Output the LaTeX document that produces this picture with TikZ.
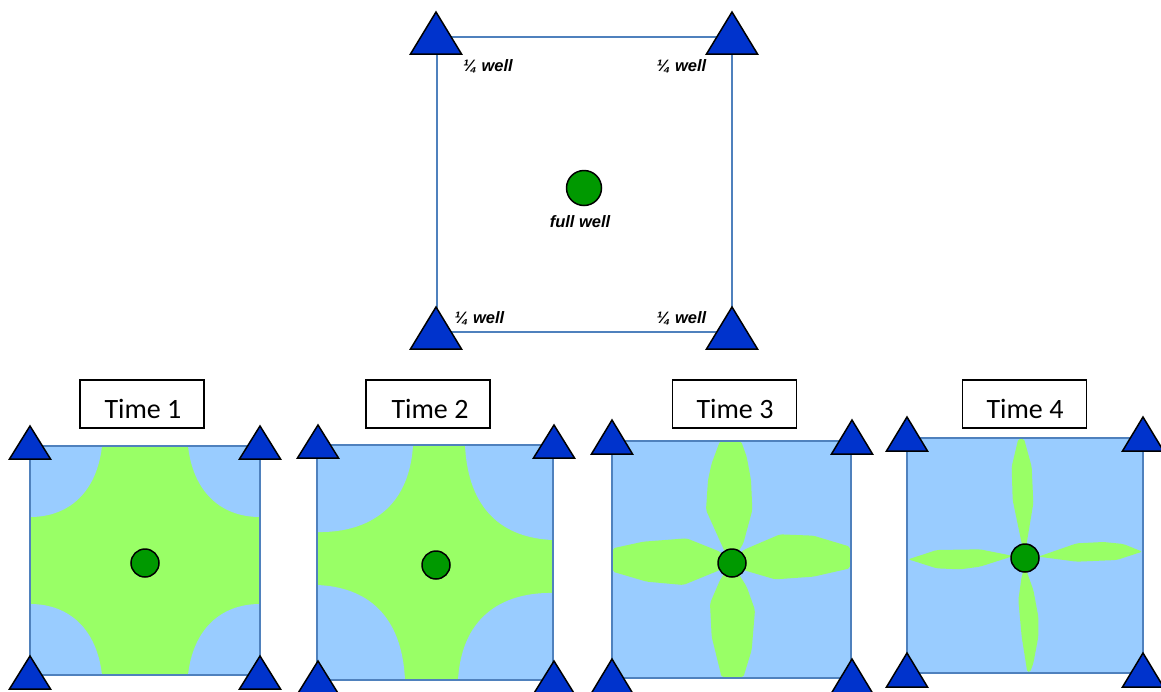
\documentclass[tikz,border=0pt]{standalone}
\usepackage{fontspec}
\newfontfamily\labfont{Liberation Sans}
\newfontfamily\timefont{Carlito}
\definecolor{triblue}{RGB}{0,51,204}
\definecolor{frameblue}{RGB}{79,129,189}
\definecolor{lblue}{RGB}{153,204,255}
\definecolor{lgreen}{RGB}{153,255,102}
\definecolor{wellgreen}{RGB}{0,153,0}
\tikzset{
  wtri/.style={fill=triblue, draw=black, line width=1.5pt, line join=miter},
  cell/.style={draw=frameblue, line width=2pt},
  well/.style={circle, fill=wellgreen, draw=black, line width=1.5pt, inner sep=0pt},
  lab/.style={font={\labfont\bfseries\itshape\fontsize{16.5}{18}\selectfont}, anchor=base, inner sep=0pt},
  timebox/.style={draw=black, line width=1.3pt, minimum width=124pt, minimum height=48pt, inner sep=0pt},
  timetxt/.style={font={\timefont\fontsize{28}{30}\selectfont}, anchor=base, inner sep=0pt},
}
\newcommand\welltri[4]{\filldraw[wtri] (#1,#2) -- ({#1-#3},{#2+#4}) -- ({#1+#3},{#2+#4}) -- cycle;}
\newcommand\timelabel[5]{%
  \node[timebox] (#1) at (#2,404) {};
  \begin{scope}
    \clip ({#2-62},380) rectangle ({#2+62},418.5);
    \node[timetxt] (#1txt) at (#3,418) {#4};
  \end{scope}}
\begin{document}
\begin{tikzpicture}[x=1pt,y=-1pt]
\useasboundingbox (0,0) rectangle (1161,691);

% ---------- top diagram ----------
\draw[cell] (437,37) rectangle (732,332);
\node[well, minimum size=35pt] (w0) at (584,188) {};
\node[lab] (l1) at (488,71) {¼ well};
\node[lab] (l2) at (681.5,71) {¼ well};
\node[lab] (l3) at (479.5,323) {¼ well};
\node[lab] (l4) at (681.5,323) {¼ well};
\node[lab] (lf) at (580,227.5) {full well};
\welltri{436}{12}{25.5}{42}
\welltri{732}{12}{25.5}{42}
\welltri{436}{307}{25.5}{42}
\welltri{732}{307}{25.5}{42}

% ---------- Time 1 ----------
\timelabel{t1}{142}{143}{Time 1}{}
\fill[lgreen] (30,446) rectangle (260,675);
\begin{scope}[shift={(30,446)}]
  \fill[lblue] (72,0) .. controls (67,45) and (40,71) .. (0,71) -- (0,0) -- cycle;
\end{scope}
\begin{scope}[shift={(260,446)},xscale=-1]
  \fill[lblue] (72,0) .. controls (67,45) and (40,71) .. (0,71) -- (0,0) -- cycle;
\end{scope}
\begin{scope}[shift={(30,675)},yscale=-1]
  \fill[lblue] (72,0) .. controls (67,45) and (40,71) .. (0,71) -- (0,0) -- cycle;
\end{scope}
\begin{scope}[shift={(260,675)},xscale=-1,yscale=-1]
  \fill[lblue] (72,0) .. controls (67,45) and (40,71) .. (0,71) -- (0,0) -- cycle;
\end{scope}
\draw[cell] (30,446) rectangle (260,675);
\node[well, minimum size=28pt] (w1) at (145,563) {};
\welltri{30}{426}{20.5}{33}
\welltri{260}{426}{20.5}{33}
\welltri{30}{656}{20.5}{33}
\welltri{260}{656}{20.5}{33}

% ---------- Time 2 ----------
\timelabel{t2}{428}{430}{Time 2}{}
\fill[lgreen] (317,445) rectangle (553,680);
\begin{scope}[shift={(317,445)}]
  \fill[lblue] (96,0) .. controls (92,68) and (45,88) .. (0,87) -- (0,0) -- cycle;
\end{scope}
\begin{scope}[shift={(553,680)},xscale=-1,yscale=-1]
  \fill[lblue] (95,0) .. controls (91,68) and (45,88) .. (0,87) -- (0,0) -- cycle;
\end{scope}
\begin{scope}[shift={(553,445)},xscale=-1]
  \fill[lblue] (88,0) .. controls (85,65) and (50,93) .. (0,95) -- (0,0) -- cycle;
\end{scope}
\begin{scope}[shift={(317,680)},yscale=-1]
  \fill[lblue] (88,0) .. controls (85,65) and (50,93) .. (0,95) -- (0,0) -- cycle;
\end{scope}
\draw[cell] (317,445) rectangle (553,680);
\node[well, minimum size=28pt] (w2) at (436,565) {};
\welltri{318}{425}{20.5}{33}
\welltri{554}{425}{20.5}{33}
\welltri{318}{661}{20.5}{33}
\welltri{554}{661}{20.5}{33}

% ---------- Time 3 ----------
\timelabel{t3}{734.5}{735}{Time 3}{}
\fill[lblue] (612,441) rectangle (851,678);
\begin{scope}[shift={(580,370)},scale=1/3]
  \fill[lgreen, rounded corners=2pt] (420,213) -- (483,213) -- (500,260) -- (513,330) -- (517,420) -- (490,520) -- (455,578) -- (432,540) -- (378,420) -- (384,330) -- (395,280) -- cycle;
  \fill[lgreen, rounded corners=2pt] (455,578) -- (500,650) -- (525,720) -- (515,840) -- (490,922) -- (425,922) -- (395,800) -- (390,700) -- (420,630) -- cycle;
  \fill[lgreen, rounded corners=2pt] (98,535) -- (190,515) -- (320,505) -- (420,545) -- (455,578) -- (420,600) -- (310,645) -- (200,635) -- (98,605) -- cycle;
  \fill[lgreen, rounded corners=2pt] (455,578) -- (490,540) -- (600,493) -- (700,497) -- (810,530) -- (810,595) -- (700,620) -- (585,628) -- (490,600) -- cycle;
\end{scope}
\draw[cell] (612,441) rectangle (851,678);
\node[well, minimum size=28pt] (w3) at (732,563) {};
\welltri{612}{420}{20.5}{34}
\welltri{852}{420}{20.5}{34}
\welltri{612}{659}{20.5}{34}
\welltri{852}{659}{20.5}{34}

% ---------- Time 4 ----------
\timelabel{t4}{1024.5}{1025}{Time 4}{}
\fill[lblue] (907,438) rectangle (1143,673);
\begin{scope}[shift={(870,370)},scale=1/3]
  \fill[lgreen, rounded corners=2pt] (445,206) -- (462,206) -- (485,290) -- (490,400) -- (470,520) -- (465,548) -- (455,520) -- (428,390) -- (425,290) -- cycle;
  \fill[lgreen, rounded corners=2pt] (465,590) -- (490,660) -- (505,740) -- (505,800) -- (490,880) -- (480,907) -- (472,907) -- (455,800) -- (445,690) -- (455,620) -- cycle;
  \fill[lgreen, rounded corners=2pt] (115,568) -- (200,540) -- (330,538) -- (430,558) -- (330,590) -- (270,598) -- (200,595) -- cycle;
  \fill[lgreen, rounded corners=2pt] (505,560) -- (620,520) -- (700,516) -- (760,522) -- (817,545) -- (740,570) -- (620,575) -- cycle;
\end{scope}
\draw[cell] (907,438) rectangle (1143,673);
\node[well, minimum size=28pt] (w4) at (1025,558) {};
\welltri{907}{417}{20.5}{34}
\welltri{1143}{417}{20.5}{34}
\welltri{907}{653}{20.5}{34}
\welltri{1143}{653}{20.5}{34}
\end{tikzpicture}
\end{document}
